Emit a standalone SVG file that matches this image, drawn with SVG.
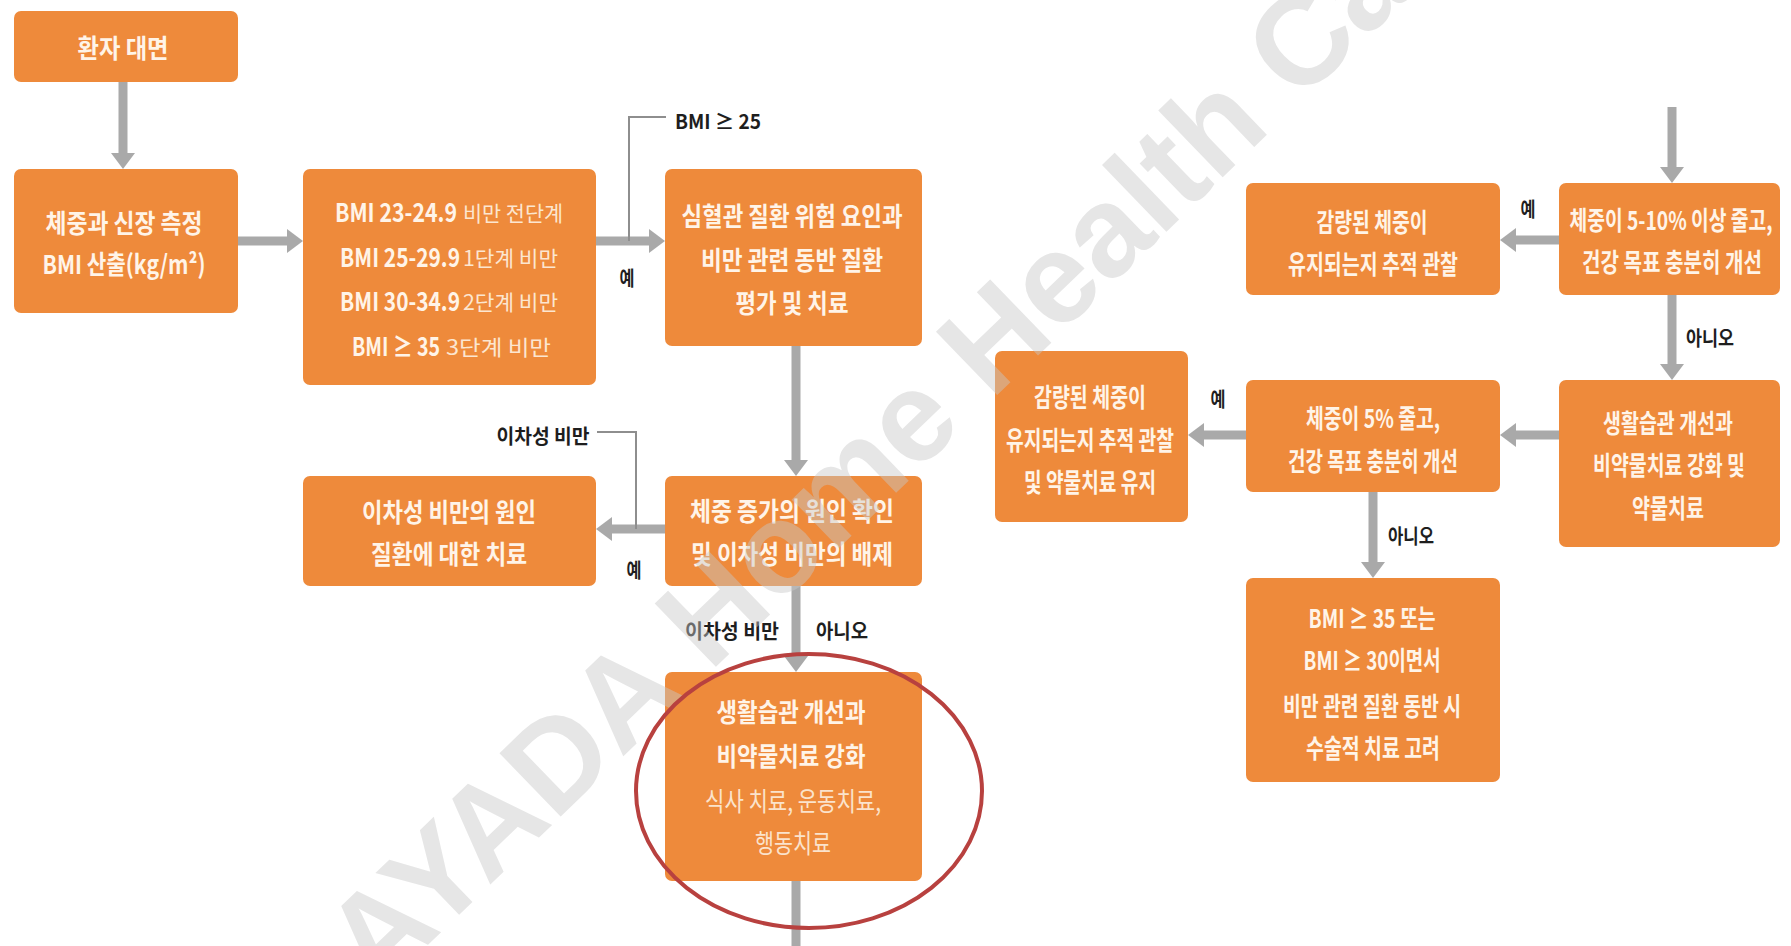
<svg xmlns="http://www.w3.org/2000/svg" width="1791" height="946" viewBox="0 0 1791 946">
<style>
.box{fill:#EE8A3B;}
.t{font-family:"Noto Sans CJK KR","Noto Sans",sans-serif;font-size:26px;font-weight:700;fill:#FFF4E8;text-anchor:middle;dominant-baseline:central;}
.lt{font-weight:400;fill:#FBE3CC;}
.b{text-anchor:end;}
.sm{font-size:21px;font-weight:400;fill:#FCE6D0;text-anchor:start;}
.lbl{font-family:"Noto Sans CJK KR","Noto Sans",sans-serif;font-size:20px;font-weight:700;fill:#1E1E1E;text-anchor:middle;dominant-baseline:central;}
.arr{stroke:#A9A9A9;stroke-width:9;fill:none;marker-end:url(#ah);}
.shaft{stroke:#A9A9A9;stroke-width:9;fill:none;}
.thin{stroke:#8E8E8E;stroke-width:2;fill:none;}
.wm{font-family:"Liberation Sans",Arial,sans-serif;font-size:128px;font-weight:700;fill:#C8C8C8;opacity:0.45;}
</style>
<defs>
<marker id="ah" markerUnits="userSpaceOnUse" markerWidth="16" markerHeight="24" refX="0" refY="12" orient="auto" overflow="visible">
<path d="M0,0 L16,12 L0,24 Z" fill="#A9A9A9"/>
</marker>
</defs>
<rect width="1791" height="946" fill="#FFFFFF"/>

<g id="connectors">
<path class="arr" d="M123,82 V153"/>
<path class="arr" d="M238,241 H287"/>
<path class="arr" d="M596,241 H649"/>
<path class="thin" d="M629,241 V117 H666"/>
<text class="lbl" x="675" y="120" style="text-anchor:start" textLength="86" lengthAdjust="spacingAndGlyphs">BMI ≥ 25</text>
<text class="lbl" x="627" y="277" textLength="15" lengthAdjust="spacingAndGlyphs">예</text>
<path class="arr" d="M796,346 V460"/>
<path class="arr" d="M665,529 H612"/>
<path class="thin" d="M597,432 H636 V529"/>
<text class="lbl" transform="translate(543 435) scale(0.89 1)" textLength="104.5" lengthAdjust="spacingAndGlyphs">이차성 비만</text>
<text class="lbl" x="634" y="569" textLength="15" lengthAdjust="spacingAndGlyphs">예</text>
<path class="arr" d="M796,586 V656"/>
<text class="lbl" transform="translate(732 630) scale(0.9 1)" textLength="104.5" lengthAdjust="spacingAndGlyphs">이차성 비만</text>
<text class="lbl" transform="translate(842 630) scale(0.867 1)" textLength="60" lengthAdjust="spacingAndGlyphs">아니오</text>
<path class="shaft" d="M796,881 V946"/>
<path class="arr" d="M1672,107 V167"/>
<path class="arr" d="M1559,240 H1516"/>
<text class="lbl" x="1528" y="208" textLength="15" lengthAdjust="spacingAndGlyphs">예</text>
<path class="arr" d="M1672,295 V364"/>
<text class="lbl" transform="translate(1710 337) scale(0.8 1)" textLength="60" lengthAdjust="spacingAndGlyphs">아니오</text>
<path class="arr" d="M1559,435 H1516"/>
<path class="arr" d="M1246,435 H1204"/>
<text class="lbl" x="1218" y="398" textLength="15" lengthAdjust="spacingAndGlyphs">예</text>
<path class="arr" d="M1373,492 V562"/>
<text class="lbl" transform="translate(1411 535) scale(0.767 1)" textLength="60" lengthAdjust="spacingAndGlyphs">아니오</text>
</g>

<g id="n1">
<rect class="box" x="14" y="11" width="224" height="71" rx="7"/>
<text class="t" transform="translate(123 47) scale(0.827 1)" textLength="110" lengthAdjust="spacingAndGlyphs">환자 대면</text>
</g>

<g id="n2">
<rect class="box" x="14" y="169" width="224" height="144" rx="7"/>
<text class="t" transform="translate(124 222) scale(0.811 1)" textLength="193.6" lengthAdjust="spacingAndGlyphs">체중과 신장 측정</text>
<text class="t" transform="translate(124 263) scale(0.84 1)" textLength="194" lengthAdjust="spacingAndGlyphs">BMI 산출(kg/m²)</text>
</g>

<g id="n3">
<rect class="box" x="303" y="169" width="293" height="216" rx="7"/>
<text class="t b" transform="translate(457 211) scale(0.868 1)" textLength="140.6" lengthAdjust="spacingAndGlyphs">BMI 23-24.9</text>
<text class="t sm" transform="translate(463 212) scale(0.912 1)" textLength="109.7" lengthAdjust="spacingAndGlyphs">비만 전단계</text>
<text class="t b" transform="translate(460 256) scale(0.853 1)" textLength="140.6" lengthAdjust="spacingAndGlyphs">BMI 25-29.9</text>
<text class="t sm" transform="translate(463 257) scale(0.783 1)" textLength="121.4" lengthAdjust="spacingAndGlyphs">1단계 비만</text>
<text class="t b" transform="translate(460 300) scale(0.853 1)" textLength="140.6" lengthAdjust="spacingAndGlyphs">BMI 30-34.9</text>
<text class="t sm" transform="translate(463 301) scale(0.783 1)" textLength="121.4" lengthAdjust="spacingAndGlyphs">2단계 비만</text>
<text class="t b" transform="translate(440 345) scale(0.777 1)" textLength="113.3" lengthAdjust="spacingAndGlyphs">BMI ≥ 35</text>
<text class="t sm" transform="translate(446 346) scale(0.865 1)" textLength="121.4" lengthAdjust="spacingAndGlyphs">3단계 비만</text>
</g>

<g id="n4">
<rect class="box" x="665" y="169" width="257" height="177" rx="7"/>
<text class="t" transform="translate(792 214) scale(0.9 1)" textLength="245.6" lengthAdjust="spacingAndGlyphs">심혈관 질환 위험 요인과</text>
<text class="t" transform="translate(792 259) scale(0.807 1)" textLength="225.5" lengthAdjust="spacingAndGlyphs">비만 관련 동반 질환</text>
<text class="t" transform="translate(792 302) scale(0.798 1)" textLength="141.6" lengthAdjust="spacingAndGlyphs">평가 및 치료</text>
</g>

<g id="n5">
<rect class="box" x="665" y="476" width="257" height="110" rx="7"/>
<text class="t" transform="translate(792 510) scale(0.811 1)" textLength="251.5" lengthAdjust="spacingAndGlyphs">체중 증가의 원인 확인</text>
<text class="t" transform="translate(792 553) scale(0.803 1)" textLength="251.5" lengthAdjust="spacingAndGlyphs">및 이차성 비만의 배제</text>
</g>

<g id="n6">
<rect class="box" x="303" y="476" width="293" height="110" rx="7"/>
<text class="t" transform="translate(449 511) scale(0.792 1)" textLength="219.6" lengthAdjust="spacingAndGlyphs">이차성 비만의 원인</text>
<text class="t" transform="translate(449 553) scale(0.806 1)" textLength="193.6" lengthAdjust="spacingAndGlyphs">질환에 대한 치료</text>
</g>

<g id="n7">
<rect class="box" x="665" y="672" width="257" height="209" rx="7"/>
<text class="t" transform="translate(791 711) scale(0.793 1)" textLength="187.8" lengthAdjust="spacingAndGlyphs">생활습관 개선과</text>
<text class="t" transform="translate(791 755) scale(0.793 1)" textLength="187.8" lengthAdjust="spacingAndGlyphs">비약물치료 강화</text>
<text class="t lt" transform="translate(793 800) scale(0.753 1)" textLength="233.7" lengthAdjust="spacingAndGlyphs">식사 치료, 운동치료,</text>
<text class="t lt" transform="translate(793 842) scale(0.731 1)" textLength="104" lengthAdjust="spacingAndGlyphs">행동치료</text>
</g>

<g id="n8">
<rect class="box" x="1246" y="183" width="254" height="112" rx="7"/>
<text class="t" transform="translate(1372 220) scale(0.686 1)" textLength="161.8" lengthAdjust="spacingAndGlyphs">감량된 체중이</text>
<text class="t" transform="translate(1373 262) scale(0.692 1)" textLength="245.6" lengthAdjust="spacingAndGlyphs">유지되는지 추적 관찰</text>
</g>

<g id="n9">
<rect class="box" x="1559" y="183" width="221" height="112" rx="7"/>
<text class="t" transform="translate(1671 219) scale(0.722 1)" textLength="281.2" lengthAdjust="spacingAndGlyphs">체중이 5-10% 이상 줄고,</text>
<text class="t" transform="translate(1672 261) scale(0.716 1)" textLength="251.5" lengthAdjust="spacingAndGlyphs">건강 목표 충분히 개선</text>
</g>

<g id="n10">
<rect class="box" x="1559" y="380" width="221" height="167" rx="7"/>
<text class="t" transform="translate(1668 421) scale(0.692 1)" textLength="187.8" lengthAdjust="spacingAndGlyphs">생활습관 개선과</text>
<text class="t" transform="translate(1669 463) scale(0.692 1)" textLength="219.6" lengthAdjust="spacingAndGlyphs">비약물치료 강화 및</text>
<text class="t" transform="translate(1668 506) scale(0.692 1)" textLength="104" lengthAdjust="spacingAndGlyphs">약물치료</text>
</g>

<g id="n11">
<rect class="box" x="1246" y="380" width="254" height="112" rx="7"/>
<text class="t" transform="translate(1373 417) scale(0.722 1)" textLength="185.7" lengthAdjust="spacingAndGlyphs">체중이 5% 줄고,</text>
<text class="t" transform="translate(1373 459) scale(0.676 1)" textLength="251.5" lengthAdjust="spacingAndGlyphs">건강 목표 충분히 개선</text>
</g>

<g id="n12">
<rect class="box" x="995" y="351" width="193" height="171" rx="7"/>
<text class="t" transform="translate(1090 395) scale(0.692 1)" textLength="161.8" lengthAdjust="spacingAndGlyphs">감량된 체중이</text>
<text class="t" transform="translate(1090 438) scale(0.684 1)" textLength="245.6" lengthAdjust="spacingAndGlyphs">유지되는지 추적 관찰</text>
<text class="t" transform="translate(1090 480) scale(0.682 1)" textLength="193.6" lengthAdjust="spacingAndGlyphs">및 약물치료 유지</text>
</g>

<g id="n13">
<rect class="box" x="1246" y="578" width="254" height="204" rx="7"/>
<text class="t" transform="translate(1372 617) scale(0.742 1)" textLength="171.1" lengthAdjust="spacingAndGlyphs">BMI ≥ 35 또는</text>
<text class="t" transform="translate(1372 659) scale(0.716 1)" textLength="191.3" lengthAdjust="spacingAndGlyphs">BMI ≥ 30이면서</text>
<text class="t" transform="translate(1372 704) scale(0.692 1)" textLength="257.3" lengthAdjust="spacingAndGlyphs">비만 관련 질환 동반 시</text>
<text class="t" transform="translate(1373 746) scale(0.692 1)" textLength="193.6" lengthAdjust="spacingAndGlyphs">수술적 치료 고려</text>
</g>

<text class="wm" x="377" y="994" transform="rotate(-44 377 994)">AYADA Home Health Care</text>

<ellipse id="highlight" cx="809" cy="791" rx="173" ry="137" fill="none" stroke="#B8413F" stroke-width="4"/>
</svg>
